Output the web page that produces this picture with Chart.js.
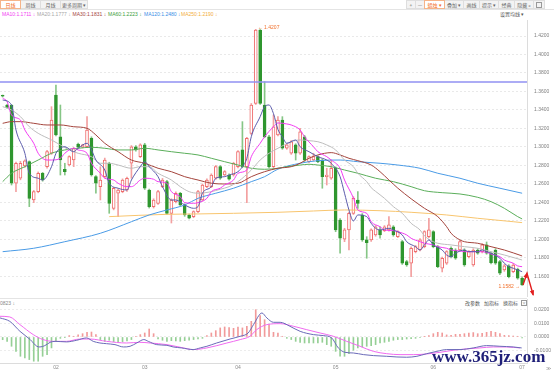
<!DOCTYPE html>
<html lang="zh">
<head>
<meta charset="utf-8">
<title>日线</title>
<script src="https://cdn.jsdelivr.net/npm/chart.js@4.4.1/dist/chart.umd.min.js"></script>
<style>
  html, body { margin: 0; padding: 0; background: #fff; }
  body { position: relative; width: 554px; height: 373px; overflow: hidden;
         font-family: "Noto Sans CJK SC", "Liberation Sans", sans-serif; }
  .row { position: absolute; top: 0; height: 9px; display: flex; }
  .btn { box-sizing: border-box; height: 9px; border: 1px solid #dedede; margin-left: -1px;
         background: #f3f3f3; color: #666; font-size: 5px; line-height: 7px;
         text-align: center; white-space: nowrap; }
  .btn.on { background: #fff; color: #f26a1b; border-color: #f5b489; position: relative; z-index: 1; }
  #rule { position: absolute; left: 0; top: 9px; width: 554px; height: 1px; background: #e4e4e4; }
  .txt { position: absolute; font-size: 5px; line-height: 6px; white-space: nowrap; }
  .num { font-family: "Liberation Sans", "DejaVu Sans", sans-serif; }
  canvas { position: absolute; left: 0; }
  #main { top: 20px; }
  #macd { top: 297px; }
  #sep { position: absolute; left: 0; top: 298px; width: 527px; height: 1px; background: #e4e4e4; }
  #mark { position: absolute; left: 432px; top: 348px; font: bold 17px/1 "Liberation Serif", serif;
          color: #1f1f78; white-space: nowrap; }
  .box { display: inline-block; box-sizing: border-box; width: 6px; height: 6px; border: 1px solid #999;
         font-size: 4px; line-height: 4px; text-align: center; color: #777; vertical-align: top; }
</style>
</head>
<body>

<div class="row" style="left:1px">
  <span class="btn on" style="width:21px">日线</span>
  <span class="btn" style="width:21px">周线</span>
  <span class="btn" style="width:21px">月线</span>
  <span class="btn" style="width:28px">更多周期 ▾</span>
</div>
<div class="row" style="left:407px">
  <span class="btn" style="width:10px">+</span>
  <span class="btn" style="width:10px">—</span>
  <span class="btn on" style="width:21px">蜡烛 ▾</span>
  <span class="btn" style="width:20px">叠加 ▾</span>
  <span class="btn" style="width:17px">画线</span>
  <span class="btn" style="width:20px">提示 ▾</span>
  <span class="btn" style="width:17px">经典</span>
  <span class="btn" style="width:20px">隐藏 »</span>
  <span class="btn" style="width:12px"><span class="box" style="margin-top:0.5px"></span></span>
</div>
<div id="rule"></div>

<div id="legend"></div>
<div class="txt" style="left:500px;top:11px;color:#555">设置均线 ▾</div>

<canvas id="main" width="554" height="277"></canvas>

<div id="sep"></div>
<div class="txt num" style="left:0;top:300px;color:#888">0823 ↓</div>
<div class="txt" style="left:465px;top:300px;color:#555">改参数</div>
<div class="txt" style="left:484px;top:300px;color:#555">加指标</div>
<div class="txt" style="left:503px;top:300px;color:#555">换指标</div>
<div class="txt" style="left:521px;top:300px"><span class="box">×</span></div>

<canvas id="macd" width="554" height="76"></canvas>
<div class="txt num" style="left:546px;top:365px;color:#999">≫</div>
<div id="mark">www.365jz.com</div>

<script>
// daily candles, [open, high, low, close]
const CANDLES = [
  [1.3553,1.3562,1.3540,1.3549],[1.3454,1.3462,1.3420,1.3429],[1.3450,1.3458,1.2589,1.2608],[1.2608,1.2836,1.2517,1.2824],
  [1.2662,1.2845,1.2645,1.2824],[1.2795,1.2862,1.2780,1.2849],[1.2841,1.2850,1.2355,1.2445],[1.2427,1.2530,1.2398,1.2517],
  [1.2517,1.2730,1.2505,1.2716],[1.2716,1.2725,1.2630,1.2643],[1.2787,1.2965,1.2770,1.2949],[1.2932,1.3436,1.2920,1.3292],
  [1.3562,1.3670,1.3120,1.3130],[1.3111,1.3454,1.2697,1.2859],[1.2759,1.2824,1.2697,1.2733],[1.2805,1.2905,1.2795,1.2895],
  [1.2859,1.2995,1.2787,1.2986],[1.3032,1.3042,1.2990,1.2997],[1.2997,1.3030,1.2990,1.3022],[1.3003,1.3328,1.2995,1.3184],
  [1.3094,1.3110,1.2685,1.2697],[1.2679,1.2690,1.2500,1.2608],[1.2571,1.2787,1.2427,1.2643],[1.2679,1.2880,1.2665,1.2859],
  [1.2824,1.2835,1.2283,1.2391],[1.2337,1.2565,1.2320,1.2554],[1.2500,1.2545,1.2247,1.2535],[1.2517,1.2655,1.2505,1.2643],
  [1.2535,1.2675,1.2520,1.2662],[1.2824,1.3015,1.2662,1.3003],[1.3003,1.3015,1.2955,1.2968],[1.2895,1.3035,1.2885,1.3022],
  [1.3022,1.3040,1.2540,1.2554],[1.2535,1.2545,1.2340,1.2355],[1.2355,1.2440,1.2340,1.2427],[1.2391,1.2530,1.2380,1.2517],
  [1.2571,1.2660,1.2560,1.2643],[1.2625,1.2640,1.2270,1.2283],[1.2283,1.2440,1.2178,1.2427],[1.2409,1.2515,1.2395,1.2500],
  [1.2500,1.2510,1.2360,1.2373],[1.2373,1.2385,1.2250,1.2265],[1.2265,1.2275,1.2222,1.2230],[1.2247,1.2310,1.2235,1.2301],
  [1.2301,1.2530,1.2290,1.2517],[1.2427,1.2600,1.2415,1.2589],[1.2571,1.2655,1.2560,1.2643],[1.2571,1.2710,1.2560,1.2697],
  [1.2662,1.2800,1.2650,1.2787],[1.2787,1.2800,1.2650,1.2662],[1.2697,1.2745,1.2685,1.2733],[1.2697,1.2710,1.2640,1.2651],
  [1.2697,1.2835,1.2685,1.2824],[1.2787,1.2960,1.2775,1.2949],[1.2968,1.3274,1.2775,1.2787],[1.2787,1.3105,1.2398,1.3094],
  [1.3148,1.3470,1.3135,1.3454],[1.3472,1.4272,1.3460,1.4265],[1.4265,1.4270,1.3460,1.3472],[1.3454,1.3706,1.3100,1.3111],
  [1.3111,1.3125,1.2775,1.2787],[1.2787,1.3346,1.2775,1.3219],[1.3130,1.3328,1.3120,1.3292],[1.3292,1.3328,1.2975,1.2986],
  [1.2986,1.3035,1.2975,1.3022],[1.2932,1.3070,1.2920,1.3057],[1.3022,1.3035,1.2859,1.2932],[1.2932,1.3202,1.2920,1.3165],
  [1.3111,1.3125,1.2845,1.2859],[1.2841,1.2905,1.2830,1.2895],[1.2859,1.2932,1.2850,1.2895],[1.2895,1.2905,1.2830,1.2841],
  [1.2859,1.2870,1.2554,1.2679],[1.2679,1.2770,1.2589,1.2697],[1.2662,1.2859,1.2650,1.2770],[1.2770,1.2785,1.2084,1.2103],
  [1.2211,1.2225,1.1851,1.2013],[1.2002,1.2121,1.1976,1.2103],[1.2103,1.2295,1.1886,1.2283],[1.2283,1.2463,1.2270,1.2445],
  [1.2427,1.2517,1.2337,1.2391],[1.2265,1.2280,1.1980,1.1995],[1.1995,1.2030,1.1797,1.1965],[1.1995,1.2115,1.1980,1.2103],
  [1.2049,1.2150,1.2035,1.2138],[1.2103,1.2138,1.2013,1.2049],[1.2095,1.2150,1.2085,1.2138],[1.2103,1.2247,1.2090,1.2157],
  [1.2138,1.2150,1.2035,1.2049],[1.2030,1.2095,1.2020,1.2084],[1.1976,1.1990,1.1730,1.1743],[1.1760,1.1775,1.1710,1.1724],
  [1.1743,1.1920,1.1598,1.1905],[1.1868,1.1935,1.1855,1.1922],[1.1886,1.2010,1.1875,1.1995],[1.1922,1.2095,1.1910,1.2084],
  [1.2030,1.2229,1.2020,1.2103],[1.2084,1.2095,1.1910,1.1922],[1.1922,1.1935,1.1695,1.1706],[1.1689,1.1810,1.1649,1.1797],
  [1.1743,1.1880,1.1730,1.1868],[1.1905,1.1920,1.1800,1.1814],[1.1886,1.1900,1.1785,1.1797],[1.1886,1.1990,1.1875,1.1976],
  [1.1886,1.1900,1.1710,1.1724],[1.1814,1.1880,1.1800,1.1868],[1.1724,1.1900,1.1710,1.1886],[1.1886,1.1900,1.1840,1.1851],
  [1.1868,1.1955,1.1855,1.1941],[1.1941,1.1973,1.1840,1.1851],[1.1851,1.1865,1.1735,1.1749],[1.1886,1.1900,1.1730,1.1743],
  [1.1760,1.1775,1.1620,1.1635],[1.1670,1.1730,1.1655,1.1714],[1.1714,1.1728,1.1585,1.1598],[1.1652,1.1740,1.1640,1.1724],
  [1.1678,1.1690,1.1570,1.1581],[1.1581,1.1595,1.1502,1.1508]
];

// moving averages, [candle index, value]
const MA5 = [[0,1.3508],[2,1.3454],[3,1.3184],[5,1.2932],[6,1.2716],[8,1.2662],[9,1.2643],[11,1.2787],[12,1.2932],[13,1.2986],
  [14,1.3003],[16,1.2949],[17,1.2986],[19,1.3040],[20,1.2968],[21,1.2859],[23,1.2751],[24,1.2608],[26,1.2554],[28,1.2535],
  [29,1.2643],[31,1.2787],[32,1.2841],[33,1.2787],[35,1.2679],[36,1.2571],[38,1.2427],[39,1.2427],[41,1.2373],[43,1.2337],
  [44,1.2355],[45,1.2500],[47,1.2571],[48,1.2662],[50,1.2679],[51,1.2697],[53,1.2733],[54,1.2787],[55,1.2878],[56,1.3111],
  [58,1.3328],[59,1.3436],[60,1.3454],[61,1.3360],[62,1.3190],[63,1.3110],[64,1.3040],[66,1.3076],[67,1.3003],[69,1.2949],
  [71,1.2895],[73,1.2859],[74,1.2824],[76,1.2679],[77,1.2500],[78,1.2319],[79,1.2200],[80,1.2265],[82,1.2247],[83,1.2175],
  [84,1.2121],[85,1.2103],[87,1.2121],[88,1.2103],[90,1.2049],[91,1.1976],[93,1.1922],[94,1.1886],[95,1.1941],[96,1.1995],
  [97,1.1941],[99,1.1886],[100,1.1832],[101,1.1814],[102,1.1851],[104,1.1886],[105,1.1868],[107,1.1868],[108,1.1886],
  [109,1.1868],[110,1.1851],[112,1.1797],[113,1.1743],[114,1.1706],[115,1.1689],[116,1.1670],[117,1.1652]];
const MA10 = [[0,1.3527],[1,1.3490],[2,1.3346],[4,1.3292],[5,1.3184],[7,1.3040],[8,1.2932],[10,1.2859],[11,1.2859],[13,1.2878],
  [14,1.2932],[16,1.2986],[17,1.2968],[19,1.2932],[20,1.2824],[22,1.2716],[23,1.2662],[25,1.2643],[26,1.2608],[28,1.2571],
  [29,1.2571],[31,1.2643],[32,1.2662],[34,1.2651],[35,1.2625],[37,1.2608],[38,1.2517],[40,1.2463],[41,1.2398],[43,1.2391],
  [44,1.2398],[46,1.2445],[47,1.2517],[49,1.2554],[50,1.2589],[52,1.2643],[53,1.2716],[55,1.2751],[56,1.2895],[58,1.3040],
  [59,1.3111],[61,1.3219],[62,1.3260],[64,1.3249],[65,1.3238],[67,1.3184],[68,1.3110],[70,1.3003],[71,1.2949],[73,1.2895],
  [74,1.2859],[76,1.2770],[77,1.2643],[79,1.2449],[80,1.2319],[82,1.2283],[83,1.2192],[85,1.2138],[86,1.2103],[88,1.2095],
  [89,1.2084],[91,1.2049],[92,1.2013],[94,1.1976],[95,1.1959],[97,1.1941],[98,1.1922],[100,1.1905],[101,1.1886],[103,1.1876],
  [104,1.1868],[106,1.1868],[107,1.1868],[109,1.1861],[110,1.1843],[112,1.1814],[113,1.1778],[115,1.1743],[116,1.1714],[117,1.1706]];
const MA20 = [[0,1.3436],[2,1.3400],[4,1.3328],[6,1.3219],[8,1.3148],[11,1.3076],[13,1.3022],[15,1.2968],[17,1.2932],[20,1.2895],
  [22,1.2824],[24,1.2824],[26,1.2805],[29,1.2770],[31,1.2787],[33,1.2787],[35,1.2716],[38,1.2643],[40,1.2571],[42,1.2517],
  [44,1.2500],[47,1.2517],[49,1.2543],[51,1.2571],[53,1.2625],[56,1.2751],[58,1.2859],[60,1.2932],[62,1.2986],[65,1.3057],
  [67,1.3076],[69,1.3068],[71,1.3057],[73,1.3022],[75,1.2968],[77,1.2859],[79,1.2787],[80,1.2716],[82,1.2625],[83,1.2560],
  [84,1.2520],[86,1.2445],[88,1.2355],[90,1.2283],[92,1.2175],[94,1.2103],[95,1.2040],[97,1.1976],[98,1.1959],[101,1.1941],
  [104,1.1922],[107,1.1905],[110,1.1868],[113,1.1832],[117,1.1778]];
const MA30 = [[0,1.3256],[2,1.3274],[4,1.3274],[7,1.3256],[10,1.3238],[13,1.3238],[16,1.3219],[19,1.3202],[21,1.3130],[23,1.3040],
  [26,1.2949],[29,1.2859],[32,1.2824],[35,1.2770],[38,1.2733],[41,1.2679],[44,1.2643],[47,1.2608],[50,1.2600],[53,1.2608],
  [56,1.2679],[59,1.2733],[62,1.2770],[65,1.2787],[67,1.2824],[69,1.2878],[71,1.2914],[74,1.2939],[76,1.2914],[78,1.2878],
  [80,1.2852],[83,1.2805],[85,1.2733],[87,1.2643],[89,1.2555],[92,1.2440],[95,1.2337],[98,1.2247],[100,1.2138],[101,1.2067],
  [103,1.1995],[104,1.1976],[107,1.1959],[110,1.1922],[113,1.1886],[117,1.1822]];
const MA60 = [[0,1.2625],[2,1.2716],[5,1.2787],[8,1.2859],[11,1.2932],[14,1.2968],[17,1.2986],[20,1.2997],[23,1.2986],[26,1.2968],
  [29,1.2968],[32,1.2986],[35,1.2968],[38,1.2949],[41,1.2932],[44,1.2914],[47,1.2878],[50,1.2841],[53,1.2805],[56,1.2770],
  [59,1.2759],[62,1.2770],[64,1.2787],[67,1.2805],[69,1.2813],[71,1.2805],[74,1.2787],[77,1.2751],[80,1.2716],[84,1.2662],
  [88,1.2625],[92,1.2571],[95,1.2527],[99,1.2506],[103,1.2492],[107,1.2456],[110,1.2409],[113,1.2337],[116,1.2247],[117,1.2222]];
const MA120 = [[0,1.1868],[7,1.1905],[14,1.1976],[22,1.2067],[29,1.2192],[33,1.2265],[37,1.2319],[41,1.2373],[44,1.2445],
  [48,1.2500],[52,1.2554],[56,1.2625],[59,1.2679],[62,1.2760],[67,1.2824],[71,1.2852],[76,1.2859],[80,1.2841],[85,1.2824],
  [89,1.2805],[94,1.2770],[98,1.2716],[103,1.2662],[107,1.2608],[112,1.2554],[117,1.2500]];
const MA250 = [[24,1.2247],[37,1.2272],[44,1.2276],[52,1.2283],[62,1.2294],[70,1.2308],[77,1.2319],[85,1.2311],[92,1.2294],
  [100,1.2265],[107,1.2229],[115,1.2192],[117,1.2182]];

const LEGEND = [
  ['MA10', '1.1711', '#f23cf2'], ['MA20', '1.1777', '#a6a6a6'], ['MA30', '1.1831', '#a4443c'],
  ['MA60', '1.2223', '#3c9e3c'], ['MA120', '1.2480', '#3a8ee6'], ['MA250', '1.2190', '#f2ad3a']
];
const LEGEND_LEFT = [2, 37, 72.5, 108, 144, 181];

const H_LINE = 1.3703;             // drawn horizontal line
const ARROW = [[117.2, 1.1508], [118.1, 1.1635], [119.5, 1.1400]];
const PEAK_INDEX = 57, PEAK_LABEL = '1.4207';
const LOW_INDEX = 117, LOW_LABEL = '1.1582';

// MACD panel
const DIF = [[-0.6,0.0139],[1.6,0.0114],[3.9,0.0041],[6.2,-0.0019],[7.7,-0.0068],[8.4,-0.0073],[9.5,-0.0063],[10.7,-0.0039],
  [11.8,-0.0032],[14.4,-0.0036],[16.7,-0.0024],[18.9,-0.0007],[20.4,-0.0032],[21.9,-0.0044],[23.4,-0.0049],[25.3,-0.0056],
  [27.2,-0.0073],[28.7,-0.0068],[30.2,-0.0044],[31.8,-0.0019],[32.8,-0.0032],[34.7,-0.0056],[37,-0.0061],[38.4,-0.0073],
  [40.3,-0.0080],[42.9,-0.0092],[44.5,-0.0080],[46,-0.0068],[48.2,-0.0044],[51.2,-0.0015],[53.5,0.0005],[55.3,0.0029],
  [56.5,0.0090],[58.4,0.0175],[59.5,0.0139],[61,0.0107],[62.5,0.0107],[64.7,0.0078],[67,0.0041],[70,0.0017],[72.2,0.0010],
  [74.1,-0.0007],[75.6,-0.0080],[77.1,-0.0112],[79,-0.0117],[81.3,-0.0129],[83.5,-0.0136],[86.5,-0.0141],[88.8,-0.0146],
  [91,-0.0148],[93.3,-0.0141],[95.5,-0.0122],[97.8,-0.0105],[100,-0.0092],[103,-0.0092],[106,-0.0080],[109,-0.0063],
  [112,-0.0068],[115,-0.0073],[116.9,-0.0080]];
const DEA = [[-0.6,0.0151],[1.6,0.0146],[3.9,0.0090],[6.9,0.0017],[9.1,-0.0019],[11.4,-0.0032],[14.4,-0.0032],[17.4,-0.0015],
  [19.7,-0.0015],[23.4,-0.0032],[27.9,-0.0044],[30.9,-0.0039],[33.2,-0.0044],[37,-0.0056],[40.7,-0.0080],[42.9,-0.0092],
  [46,-0.0080],[50.5,-0.0044],[53.5,-0.0019],[55.7,0.0005],[57.2,0.0053],[59.5,0.0090],[62.5,0.0097],[65.5,0.0078],
  [68.5,0.0053],[71.5,0.0029],[74.5,0.0005],[77.5,-0.0032],[80.5,-0.0068],[83.5,-0.0105],[86.5,-0.0122],[89.5,-0.0129],
  [92.5,-0.0129],[95.5,-0.0124],[98.5,-0.0112],[101.5,-0.0097],[104.5,-0.0087],[107.5,-0.0080],[110.5,-0.0073],
  [113.5,-0.0073],[116.5,-0.0080]];
const HIST = [-0.0020,-0.0032,-0.0068,-0.0105,-0.0141,-0.0153,-0.0165,-0.0177,-0.0177,-0.0141,-0.0129,-0.0080,-0.0032,
  -0.0010,-0.0005,0.0010,0.0005,0.0015,0.0024,0.0034,0.0036,0.0017,-0.0019,-0.0032,-0.0024,-0.0034,-0.0039,-0.0034,-0.0029,
  -0.0019,0.0004,0.0017,0.0029,0.0058,0.0024,-0.0015,-0.0024,-0.0032,-0.0027,-0.0029,-0.0032,-0.0027,-0.0024,-0.0019,-0.0015,
  -0.0010,0.0010,0.0029,0.0046,0.0066,0.0073,0.0068,0.0063,0.0073,0.0066,0.0078,0.0114,0.0199,0.0156,0.0126,0.0090,0.0034,
  0.0029,0.0005,-0.0010,-0.0019,-0.0032,-0.0039,-0.0044,-0.0044,-0.0044,-0.0044,-0.0039,-0.0056,-0.0068,-0.0105,-0.0141,
  -0.0141,-0.0122,-0.0097,-0.0080,-0.0073,-0.0068,-0.0063,-0.0056,-0.0044,-0.0039,-0.0032,-0.0024,-0.0019,-0.0019,-0.0015,
  -0.0012,-0.0010,-0.0005,0.0002,0.0010,0.0024,0.0034,0.0029,0.0015,0.0012,0.0019,0.0019,0.0024,0.0029,0.0032,0.0024,0.0027,
  0.0034,0.0041,0.0034,0.0024,0.0012,0.0010,0.0007,0.0005,-0.0007];

const PRICE_TICKS = [1.16, 1.18, 1.20, 1.22, 1.24, 1.26, 1.28, 1.30, 1.32, 1.34, 1.36, 1.38, 1.40, 1.42];
const MACD_TICKS = [-0.01, 0, 0.01, 0.02];
const MONTH_TICKS = [12, 32, 53, 75, 97, 117];
const MONTH_LABELS = ['02', '03', '04', '05', '06', '07'];

const X_MIN = -0.6, X_MAX = 118.1;
const UP = '#ef6c6c', UP_WICK = '#f3a0a0', DOWN = '#2f962f', DOWN_WICK = '#86c686';
const TICK_FONT = { family: 'Liberation Sans', size: 5 };

// legend row
const legendEl = document.getElementById('legend');
LEGEND.forEach(([name, val, color], i) => {
  const s = document.createElement('div');
  s.className = 'txt num';
  s.style.cssText = `left:${LEGEND_LEFT[i]}px;top:11px;color:${color}`;
  s.textContent = `${name}:${val} ↓`;
  legendEl.appendChild(s);
});

const pts = pairs => pairs.map(([x, y]) => ({ x, y }));
const maLine = (pairs, color) => ({
  type: 'line', data: pts(pairs), borderColor: color, borderWidth: 1,
  pointRadius: 0, pointHoverRadius: 0, cubicInterpolationMode: 'monotone', order: 0,
});
const isUp = c => c[3] >= c[0];

// the scales should not shrink the plot to make room for edge labels
const noEdgePadding = s => { s.paddingTop = 0; s.paddingBottom = 0; s.paddingLeft = 0; s.paddingRight = 0; };

// extreme value labels and the red hand-drawn arrow, placed through the scales
const annotations = {
  id: 'annotations',
  afterDatasetsDraw(chart) {
    const { ctx, scales: { x, y } } = chart;
    ctx.save();
    ctx.font = '5px "Liberation Sans", "DejaVu Sans"';
    ctx.fillStyle = '#f0702c';
    ctx.textBaseline = 'middle';
    ctx.textAlign = 'left';
    ctx.fillText('← ' + PEAK_LABEL, x.getPixelForValue(PEAK_INDEX) + 2, y.getPixelForValue(CANDLES[PEAK_INDEX][1]) - 2);
    ctx.textAlign = 'right';
    ctx.fillText(LOW_LABEL + ' →', x.getPixelForValue(LOW_INDEX) - 2, y.getPixelForValue(CANDLES[LOW_INDEX][2]) + 1);

    const p = ARROW.map(([k, v]) => [x.getPixelForValue(k), y.getPixelForValue(v)]);
    ctx.strokeStyle = ctx.fillStyle = '#e21f1f';
    ctx.lineWidth = 1.4;
    ctx.beginPath();
    p.forEach(([px, py], i) => i ? ctx.lineTo(px, py) : ctx.moveTo(px, py));
    ctx.stroke();
    const head = (from, to) => {
      const a = Math.atan2(to[1] - from[1], to[0] - from[0]);
      const L = 4.5, W = 2.2;
      ctx.beginPath();
      ctx.moveTo(to[0] + Math.cos(a), to[1] + Math.sin(a));
      ctx.lineTo(to[0] - L * Math.cos(a) + W * Math.sin(a), to[1] - L * Math.sin(a) - W * Math.cos(a));
      ctx.lineTo(to[0] - L * Math.cos(a) - W * Math.sin(a), to[1] - L * Math.sin(a) + W * Math.cos(a));
      ctx.closePath();
      ctx.fill();
    };
    head(p[0], p[1]);
    head(p[1], p[2]);
    ctx.restore();
  }
};

new Chart(document.getElementById('main'), {
  type: 'bar',
  data: {
    datasets: [
      maLine(MA5, '#5b5bab'),
      maLine(MA10, LEGEND[0][2]),
      maLine(MA20, '#bdbdbd'),
      maLine(MA30, LEGEND[2][2]),
      maLine(MA60, '#5aae5a'),
      maLine(MA120, '#4a9be6'),
      maLine(MA250, '#f8c56e'),
      { type: 'line', data: [{ x: X_MIN, y: H_LINE }, { x: X_MAX, y: H_LINE }],
        borderColor: '#9191f2', borderWidth: 1.5, pointRadius: 0, pointHoverRadius: 0, order: 0 },
      { data: CANDLES.map((c, i) => ({ x: i, y: [c[0], c[3]] })),
        backgroundColor: CANDLES.map(c => isUp(c) ? '#ffffff' : DOWN),
        borderColor: CANDLES.map(c => isUp(c) ? UP : DOWN),
        borderWidth: 1, borderSkipped: false, barThickness: 3, minBarLength: 1, grouped: false, order: 1 },
      { data: CANDLES.map((c, i) => ({ x: i, y: [c[2], c[1]] })),
        backgroundColor: CANDLES.map(c => isUp(c) ? UP_WICK : DOWN_WICK),
        barThickness: 1, grouped: false, order: 2 },
    ]
  },
  options: {
    responsive: false, animation: false, devicePixelRatio: 1,
    layout: { padding: 0, autoPadding: false },
    plugins: { legend: { display: false }, tooltip: { enabled: false } },
    scales: {
      x: { type: 'linear', min: X_MIN, max: X_MAX, offset: false, display: false },
      y: {
        position: 'right', min: 1.1378, max: 1.4373, bounds: 'data',
        afterBuildTicks: s => { s.ticks = PRICE_TICKS.map(v => ({ value: v })); },
        afterFit: s => { s.width = 27; noEdgePadding(s); },
        ticks: { font: TICK_FONT, color: '#808080', padding: 7, callback: v => v.toFixed(4) },
        grid: { color: '#e9e9e9', drawTicks: false },
        border: { color: '#dcdcdc', dash: [2, 2] },
      }
    }
  },
  plugins: [annotations]
});

new Chart(document.getElementById('macd'), {
  type: 'bar',
  data: {
    datasets: [
      { type: 'line', data: pts(DIF), borderColor: '#6a6ab8', borderWidth: 1, pointRadius: 0, pointHoverRadius: 0,
        cubicInterpolationMode: 'monotone', order: 0 },
      { type: 'line', data: pts(DEA), borderColor: '#f06af0', borderWidth: 1, pointRadius: 0, pointHoverRadius: 0,
        cubicInterpolationMode: 'monotone', order: 0 },
      { data: HIST.map((v, i) => ({ x: i, y: v })),
        backgroundColor: HIST.map(v => v >= 0 ? '#f19a9a' : '#95cf95'),
        barThickness: 1, order: 1 },
    ]
  },
  options: {
    responsive: false, animation: false, devicePixelRatio: 1,
    layout: { padding: { top: 2 }, autoPadding: false },
    plugins: { legend: { display: false }, tooltip: { enabled: false } },
    scales: {
      x: {
        type: 'linear', min: X_MIN, max: X_MAX, offset: false, bounds: 'data',
        afterBuildTicks: s => { s.ticks = MONTH_TICKS.map(v => ({ value: v })); },
        afterFit: s => { s.height = 10; noEdgePadding(s); },
        ticks: { font: TICK_FONT, color: '#8a8a8a', padding: 2, maxRotation: 0, autoSkip: false,
                 callback: v => MONTH_LABELS[MONTH_TICKS.indexOf(v)] },
        grid: { display: false, drawTicks: false },
        border: { color: '#dcdcdc' },
      },
      y: {
        position: 'right', min: -0.019, max: 0.0277, bounds: 'data',
        afterBuildTicks: s => { s.ticks = MACD_TICKS.map(v => ({ value: v })); },
        afterFit: s => { s.width = 27; noEdgePadding(s); },
        ticks: { font: TICK_FONT, color: '#808080', padding: 7, callback: v => v.toFixed(4) },
        grid: { color: '#ececec', drawTicks: false },
        border: { color: '#dcdcdc', dash: [2, 2] },
      }
    }
  }
});
</script>
</body>
</html>
